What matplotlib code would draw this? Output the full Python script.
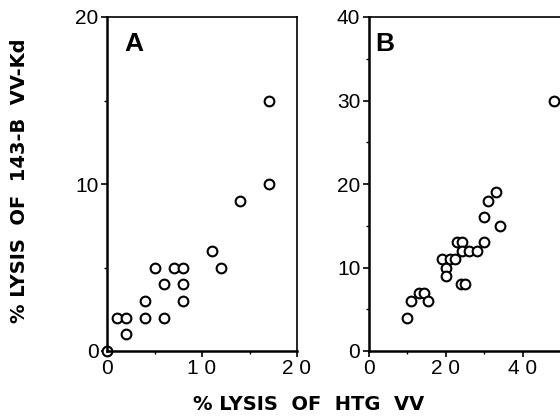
import matplotlib
matplotlib.use('Agg')
import matplotlib.pyplot as plt
from matplotlib.ticker import MultipleLocator

plt.rcParams['font.family'] = ['Liberation Sans', 'DejaVu Sans']

# panel A: % lysis of HTG VV (x) vs % lysis of 143-B VV-Kd (y)
a_x = [0, 1, 2, 2, 4, 4, 5, 6, 6, 7, 8, 8, 8, 11, 12, 14, 17, 17]
a_y = [0, 2, 2, 1, 3, 2, 5, 4, 2, 5, 5, 4, 3, 6, 5, 9, 10, 15]

# panel B
b_x = [10, 11, 13, 14.3, 15.4, 19, 20, 20, 21, 22.4, 23, 24.3, 24.3, 24, 25,
       26, 28, 30, 30, 31, 33, 34, 48]
b_y = [4, 6, 7, 7, 6, 11, 10, 9, 11, 11, 13, 13, 12, 8, 8,
       12, 12, 13, 16, 18, 19, 15, 30]

a_xticks = [0, 10, 20]
a_xlabels = ['0', '1 0', '2 0']
a_yticks = [0, 10, 20]
b_xticks = [0, 20, 40]
b_xlabels = ['0', '2 0', '4 0']
b_yticks = [0, 10, 20, 30, 40]

fig = plt.figure(figsize=(5.6, 4.2), dpi=100)
W, H = 560, 420
axA = fig.add_axes([107 / W, (H - 351) / H, 190 / W, 334 / H])
axB = fig.add_axes([368.7 / W, (H - 351) / H, 231 / W, 334 / H])


def style(ax):
    ax.spines['left'].set_linewidth(1.8)
    ax.spines['bottom'].set_linewidth(1.8)
    ax.spines['top'].set_linewidth(1.2)
    ax.spines['right'].set_linewidth(1.2)
    ax.tick_params(which='major', direction='out', length=4, width=1.2,
                   labelsize=15, pad=2, top=False, right=False)
    ax.tick_params(which='minor', direction='out', length=2.5, width=1.0,
                   top=False, right=False)


axA.plot(a_x, a_y, 'o', mfc='white', mec='black', ms=7, mew=1.5, clip_on=False)
axA.set_xlim(0, 20)
axA.set_ylim(0, 20)
axA.set_xticks(a_xticks)
axA.set_xticklabels(a_xlabels)
axA.set_yticks(a_yticks)
axA.xaxis.set_minor_locator(MultipleLocator(5))
axA.yaxis.set_minor_locator(MultipleLocator(5))
style(axA)
axA.text(0.09, 0.955, 'A', transform=axA.transAxes, fontsize=19,
         fontweight='bold', va='top', ha='left')

axB.plot(b_x, b_y, 'o', mfc='white', mec='black', ms=7, mew=1.5, clip_on=False)
axB.set_xlim(0, 60)
axB.set_ylim(0, 40)
axB.set_xticks(b_xticks)
axB.set_xticklabels(b_xlabels)
axB.set_yticks(b_yticks)
axB.xaxis.set_minor_locator(MultipleLocator(10))
axB.yaxis.set_minor_locator(MultipleLocator(5))
style(axB)
axB.text(0.03, 0.955, 'B', transform=axB.transAxes, fontsize=19,
         fontweight='bold', va='top', ha='left')

lab_font = dict(family=['DejaVu Sans'], fontsize=14, fontweight='bold')
fig.text(20 / W, 1 - 181 / H, '% LYSIS  OF  143-B  VV-Kd', rotation=90,
         ha='center', va='center', **lab_font)
fig.text(309 / W, 1 - 404 / H, '% LYSIS  OF  HTG  VV',
         ha='center', va='center', **lab_font)

fig.savefig('out.png', dpi=100)
